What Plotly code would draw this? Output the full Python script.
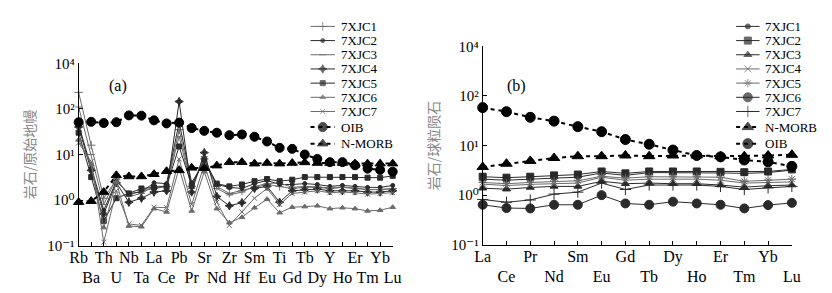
import plotly.graph_objects as go

# ---------------- data: left panel (primitive-mantle normalised spider diagram)
spider_elems = ["Rb", "Ba", "Th", "U", "Nb", "Ta", "La", "Ce", "Pb", "Pr", "Sr", "Nd", "Zr",
                "Hf", "Sm", "Eu", "Ti", "Gd", "Tb", "Dy", "Y", "Ho", "Er", "Tm", "Yb", "Lu"]
sp_7XJC1 = [230, 16, 1.1, 2.8, 1.3, 1.6, 1.8, 2.0, 35, 2.0, 8.0, 2.0, 1.4, 1.6, 1.9, 2.2, 2.0, 1.8, 1.9, 1.9, 1.8, 1.9, 1.8, 1.7, 1.7, 1.8]
sp_7XJC2 = [45, 5.0, 0.6, 2.6, 1.4, 1.5, 2.4, 2.3, 50, 2.4, 7.0, 2.2, 1.9, 1.8, 2.3, 2.7, 2.2, 2.2, 2.3, 2.2, 2.0, 2.1, 2.0, 1.9, 1.9, 2.1]
sp_7XJC3 = [110, 10, 0.8, 3.0, 1.2, 1.4, 2.0, 2.0, 25, 1.8, 9.0, 1.8, 1.3, 1.5, 2.0, 2.3, 2.4, 1.9, 2.0, 1.95, 1.85, 1.9, 1.85, 1.7, 1.7, 1.75]
sp_7XJC4 = [40, 4.5, 0.5, 2.4, 0.9, 1.1, 1.5, 1.6, 145, 1.5, 11, 1.2, 0.75, 0.88, 1.8, 2.0, 0.9, 1.6, 1.7, 1.75, 1.6, 1.6, 1.6, 1.5, 1.5, 1.6]
sp_7XJC5 = [30, 3.2, 0.35, 1.1, 1.4, 1.8, 1.9, 2.0, 15, 2.1, 7.5, 2.3, 2.0, 2.2, 2.6, 2.9, 2.6, 2.8, 3.2, 3.2, 3.2, 3.2, 3.2, 3.1, 3.1, 3.4]
sp_7XJC6 = [21, 6.0, 0.25, 2.5, 0.27, 0.26, 0.65, 0.55, 5.0, 0.58, 4.2, 0.65, 0.32, 0.42, 0.68, 1.05, 0.53, 0.7, 0.72, 0.75, 0.65, 0.68, 0.65, 0.58, 0.6, 0.7]
sp_7XJC7 = [18, 7.0, 0.12, 1.6, 0.3, 0.28, 0.7, 0.68, 8.0, 0.8, 6.0, 0.9, 0.28, 0.55, 1.1, 1.8, 0.8, 1.4, 1.5, 1.6, 1.45, 1.5, 1.45, 1.35, 1.4, 1.45]
sp_OIB = [51, 52, 49, 51, 72, 71, 56, 48, 50, 38, 33, 30, 26.5, 27.5, 24.5, 19.3, 14, 13.3, 10, 8, 6.8, 6.8, 5.8, 4.9, 4.6, 4.2]
sp_NMORB = [0.9, 0.95, 1.5, 3.5, 3.3, 3.3, 3.7, 4.3, 4.5, 5.1, 5.0, 5.7, 6.8, 6.8, 6.3, 6.5, 6.3, 6.5, 6.7, 6.5, 6.5, 6.5, 6.3, 6.3, 6.3, 6.3]

# ---------------- data: right panel (chondrite normalised REE)
ree_elems = ["La", "Ce", "Pr", "Nd", "Sm", "Eu", "Gd", "Tb", "Dy", "Ho", "Er", "Tm", "Yb", "Lu"]
ree_7XJC1 = [2.1, 2.0, 2.1, 2.2, 2.3, 2.8, 2.5, 2.85, 2.85, 2.85, 2.8, 2.75, 2.85, 3.2]
ree_7XJC2 = [2.35, 2.25, 2.35, 2.5, 2.6, 3.0, 2.75, 3.0, 3.0, 3.0, 2.95, 2.9, 3.0, 3.3]
ree_7XJC3 = [1.38, 1.32, 1.43, 1.5, 1.5, 1.9, 1.7, 1.75, 1.7, 1.7, 1.6, 1.45, 1.55, 1.6]
ree_7XJC4 = [1.67, 1.56, 1.65, 1.7, 1.75, 2.3, 2.0, 2.1, 2.1, 2.1, 2.0, 1.75, 1.8, 1.85]
ree_7XJC5 = [1.8, 1.7, 1.8, 1.9, 1.95, 2.4, 2.2, 2.35, 2.35, 2.35, 2.3, 1.9, 2.0, 2.1]
ree_7XJC6 = [0.64, 0.55, 0.54, 0.64, 0.64, 1.0, 0.68, 0.64, 0.74, 0.68, 0.64, 0.54, 0.63, 0.7]
ree_7XJC7 = [0.82, 0.72, 0.8, 1.05, 1.15, 1.75, 1.3, 1.6, 1.6, 1.6, 1.5, 1.3, 1.4, 1.5]
ree_NMORB = [3.7, 4.3, 4.9, 5.6, 6.1, 6.1, 6.3, 6.1, 6.3, 6.3, 6.1, 6.1, 6.3, 6.5]
ree_OIB = [58, 48, 37, 31, 24, 19, 13.2, 10.6, 8.1, 6.3, 5.9, 5.1, 4.7, 3.8]

y_tickvals = [0.1, 1, 10, 100, 1000]
y_ticktext = ["10\u207b\u00b9", "10\u2070", "10\u00b9", "10\u00b2", "10\u2074"]

SERIF = "Liberation Serif, DejaVu Serif, Times New Roman, serif"
CJK = "Noto Sans CJK SC"
DARK = "#2a2a2a"
GREY = "#6a6a6a"
W, H = 832, 293

# (name, values, symbol, size, colour, dashed)
left_specs = [
    ("7XJC1", sp_7XJC1, "cross-thin", 6, GREY, False),
    ("7XJC2", sp_7XJC2, "circle", 4, DARK, False),
    ("7XJC3", sp_7XJC3, "line-ew", 5, GREY, False),
    ("7XJC4", sp_7XJC4, "star-diamond", 6, DARK, False),
    ("7XJC5", sp_7XJC5, "square", 5, DARK, False),
    ("7XJC6", sp_7XJC6, "triangle-up", 5, GREY, False),
    ("7XJC7", sp_7XJC7, "x-thin", 5, GREY, False),
    ("OIB", sp_OIB, "circle", 9, "black", True),
    ("N-MORB", sp_NMORB, "triangle-up", 9, "black", True),
]
right_specs = [
    ("7XJC1", ree_7XJC1, "circle", 5, DARK, False),
    ("7XJC2", ree_7XJC2, "square", 7, DARK, False),
    ("7XJC3", ree_7XJC3, "triangle-up", 7, DARK, False),
    ("7XJC4", ree_7XJC4, "x-thin", 7, GREY, False),
    ("7XJC5", ree_7XJC5, "asterisk", 7, GREY, False),
    ("7XJC6", ree_7XJC6, "circle", 9, DARK, False),
    ("7XJC7", ree_7XJC7, "cross-thin", 8, DARK, False),
    ("N-MORB", ree_NMORB, "triangle-up", 10, "black", True),
    ("OIB", ree_OIB, "circle", 10, "black", True),
]

fig = go.Figure()


def style(sym, size, col, dashed):
    line = dict(color=col, width=2 if dashed else 1, dash="4px,4px" if dashed else "solid")
    marker = dict(symbol=sym, size=size, color=col, line=dict(color=col, width=1))
    return line, marker


def add_panel(specs, elems, xa, ya):
    xi = list(range(len(elems)))
    for name, vals, sym, size, col, dashed in specs:
        line, marker = style(sym, size, col, dashed)
        fig.add_trace(go.Scatter(x=xi, y=vals, name=name, mode="lines+markers",
                                 xaxis=xa, yaxis=ya, line=line, marker=marker,
                                 cliponaxis=False, showlegend=False))


add_panel(left_specs, spider_elems, "x", "y")
add_panel(right_specs, ree_elems, "x2", "y2")

# empty carrier traces so the second-row label axes are drawn
fig.add_trace(go.Scatter(x=[], y=[], xaxis="x4", yaxis="y", showlegend=False, hoverinfo="skip"))
fig.add_trace(go.Scatter(x=[], y=[], xaxis="x5", yaxis="y2", showlegend=False, hoverinfo="skip"))

# ---- hand-built legends (pixel-space overlay axis), one per panel
annotations = []
LEG_FONT = 13


def add_legend(specs, x0, swatch_len, text_gap):
    for i, (name, vals, sym, size, col, dashed) in enumerate(specs):
        yr = 11 + 15 * i if i < 7 else 117.5 + 17.5 * (i - 7)
        line, marker = style(sym, size, col, dashed)
        marker["size"] = [0, size, 0]
        fig.add_trace(go.Scatter(x=[x0, x0 + swatch_len / 2, x0 + swatch_len], y=[yr] * 3,
                                 mode="lines+markers", xaxis="x3", yaxis="y3",
                                 line=line, marker=marker, cliponaxis=False,
                                 showlegend=False, hoverinfo="skip"))
        annotations.append(dict(text=name, xref="x3", yref="y3", x=x0 + swatch_len + text_gap,
                                y=yr, xanchor="left", yanchor="middle", showarrow=False,
                                font=dict(family=SERIF, size=LEG_FONT, color="black")))


add_legend(left_specs, 300, 25, 4)
add_legend(right_specs, 735, 24, 4)

axis_common = dict(showline=True, linecolor="black", linewidth=1, ticks="inside",
                   ticklen=4, tickcolor="black", showgrid=False, zeroline=False)
xtick_font = dict(family=SERIF, size=16, color="black")
ytick_font = dict(family=SERIF, size=15, color="black")
title_font = dict(family=CJK, size=14, color="#888888")


def row_axes(elems, domain, anchor, overlay_name):
    idx = list(range(len(elems)))
    even = idx[0::2]
    odd = idx[1::2]
    main = dict(domain=domain, range=[0, len(elems) - 1], tickmode="array",
                tickvals=even, ticktext=[elems[i] for i in even], tickangle=0,
                tickfont=xtick_font, anchor=anchor, ticklabelstandoff=-3,
                minor=dict(ticks="inside", ticklen=4, tickcolor="black", dtick=1, tick0=0,
                           showgrid=False),
                **axis_common)
    second = dict(overlaying=overlay_name, anchor=anchor, side="bottom",
                  range=[0, len(elems) - 1], tickmode="array", tickvals=odd,
                  ticktext=[elems[i] for i in odd], tickangle=0, tickfont=xtick_font,
                  ticks="", showline=False, showgrid=False, zeroline=False,
                  ticklabelstandoff=20)
    return main, second


xa1, xa4 = row_axes(spider_elems, [63 / W, 384 / W], "y", "x")
xa2, xa5 = row_axes(ree_elems, [476 / W, 792 / W], "y2", "x2")

annotations += [
    dict(text="(a)", xref="paper", yref="paper", x=92 / W, y=(H - 62) / H,
         showarrow=False, font=dict(family=SERIF, size=16)),
    dict(text="(b)", xref="paper", yref="paper", x=511 / W, y=(H - 62) / H,
         showarrow=False, font=dict(family=SERIF, size=16)),
]

fig.update_layout(
    width=W, height=H, margin=dict(l=0, r=0, t=0, b=0),
    paper_bgcolor="white", plot_bgcolor="rgba(0,0,0,0)",
    font=dict(family=SERIF, size=14, color="black"),
    showlegend=False,
    xaxis=xa1, xaxis4=xa4, xaxis2=xa2, xaxis5=xa5,
    yaxis=dict(domain=[(H - 243) / H, (H - 50) / H], type="log", range=[-1, 3],
               tickmode="array", tickvals=y_tickvals, ticktext=y_ticktext, anchor="x",
               tickfont=ytick_font,
               title=dict(text="岩石/原始地幔", font=title_font, standoff=8),
               **axis_common),
    yaxis2=dict(domain=[(H - 242) / H, (H - 32) / H], type="log", range=[-1, 3],
                tickmode="array", tickvals=y_tickvals, ticktext=y_ticktext, anchor="x2",
                tickfont=ytick_font,
                title=dict(text="岩石/球粒陨石", font=title_font, standoff=8),
                **axis_common),
    xaxis3=dict(domain=[0, 1], range=[0, W], visible=False, fixedrange=True, anchor="y3"),
    yaxis3=dict(domain=[0, 1], range=[H, 0], visible=False, fixedrange=True, anchor="x3"),
    annotations=annotations,
)

fig.write_html("out.html")
